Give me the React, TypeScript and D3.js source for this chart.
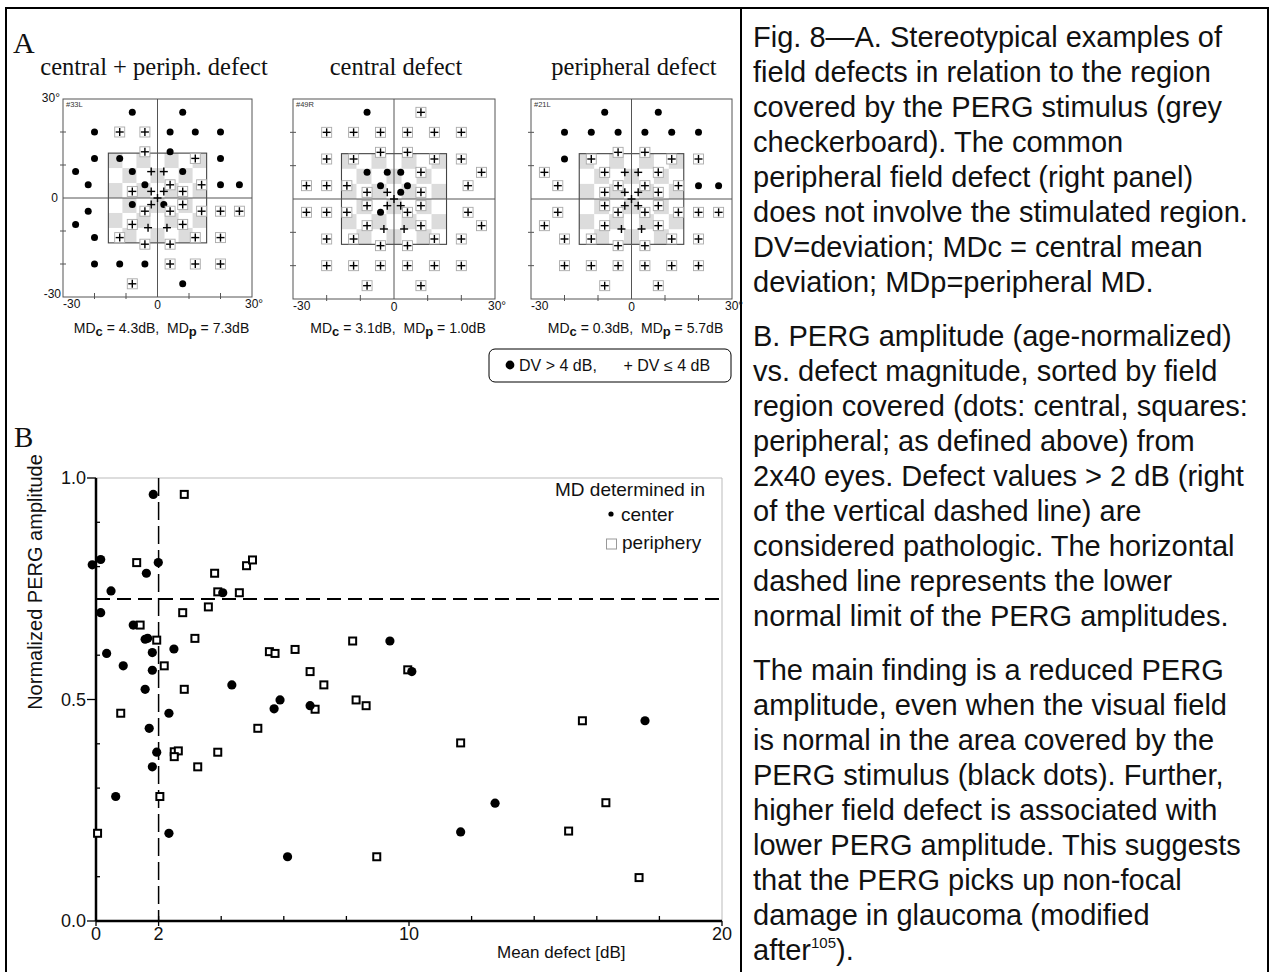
import React from 'react';
import * as d3 from 'd3';

// ---------- Panel A: visual-field test pattern (left-eye orientation, degrees) ----------
const fieldX = [
  -8, 8,
  -20, -12, -4, 4, 12, 20,
  -4, 4,
  -20, -12, 12, 20,
  -26, -8, -2, 2, 8,
  -22, -4, 4, 14, 20, 26,
  -8, -2, 2, 8,
  0,
  -8, -2, 2, 8,
  -22, -4, 4, 14, 20, 26,
  -26, -8, -3, 3, 8,
  -20, -12, 12, 20,
  -4, 4,
  -20, -12, -4, 4, 12, 20,
  -8, 8,
];
const fieldY = [
  26, 26,
  20, 20, 20, 20, 20, 20,
  14, 14,
  12, 12, 12, 12,
  8, 8, 8, 8, 8,
  4, 4, 4, 4, 4, 4,
  2, 2, 2, 2,
  0,
  -2, -2, -2, -2,
  -4, -4, -4, -4, -4, -4,
  -8, -8, -9, -9, -8,
  -12, -12, -12, -12,
  -14, -14,
  -20, -20, -20, -20, -20, -20,
  -26, -26,
];
// D = DV > 4 dB (dot), P = DV <= 4 dB (plus)
const panelStatus = [
  'DD' + 'DPPDDD' + 'PD' + 'DDPD' + 'DDPPD' + 'DDPPDD' + 'PPPP' + 'P' + 'DPDP' + 'DPPPPP' + 'DPPPP' + 'DPPP' + 'PP' + 'DDDPPP' + 'PD',
  'PD' + 'PPPPPP' + 'PP' + 'PPPP' + 'PPDDD' + 'PDDPPP' + 'PDPP' + 'P' + 'PPPP' + 'PPDPPP' + 'PPPPP' + 'PPPP' + 'PP' + 'PPPPPP' + 'PP',
  'DD' + 'DDDDDD' + 'PP' + 'DPPP' + 'PPPPP' + 'PPPPDD' + 'PPPP' + 'P' + 'PPPP' + 'PPPPPP' + 'PPPPP' + 'PPPP' + 'PP' + 'PPPPPP' + 'PP',
];
const panelTitles = ['central + periph. defect', 'central defect', 'peripheral defect'];
const panelIds = ['#33L', '#49R', '#21L'];
const panelMirrored = [false, true, false];
const panelMDc = ['4.3', '3.1', '0.3'];
const panelMDp = ['7.3', '1.0', '5.7'];
const fieldTicks = [-20, -10, 10, 20];
const checkerHalfW = 15.6;
const checkerHalfH = 13.6;
const checkerCols = 7;
const checkerRows = 6;

// ---------- Panel B: PERG amplitude vs mean defect ----------
const centerMD = [1.83, -0.12, 0.15, 1.99, 1.61, 4.05, 0.48, 0.15, 1.19, 1.57, 1.65, 0.34, 1.80, 2.49, 0.87, 1.80, 1.57, 4.34, 5.88, 5.69, 2.33, 1.70, 1.94, 1.80, 0.63, 2.33, 6.12, 9.39, 10.09, 6.84, 12.75, 11.65, 17.54];
const centerAmp = [0.963, 0.804, 0.816, 0.809, 0.785, 0.741, 0.745, 0.696, 0.668, 0.636, 0.638, 0.604, 0.606, 0.614, 0.576, 0.566, 0.523, 0.533, 0.499, 0.479, 0.469, 0.435, 0.381, 0.348, 0.281, 0.198, 0.145, 0.632, 0.563, 0.486, 0.266, 0.201, 0.452];
const periphMD = [2.82, 1.30, 3.79, 4.81, 5.0, 3.89, 4.58, 3.59, 2.77, 1.41, 1.94, 3.16, 2.18, 2.82, 5.54, 5.72, 0.79, 5.17, 2.50, 2.63, 2.50, 3.89, 3.25, 2.04, 0.05, 6.36, 8.20, 6.84, 7.28, 9.96, 7.0, 8.31, 8.63, 11.65, 8.97, 15.54, 16.29, 15.10, 17.35];
const periphAmp = [0.963, 0.809, 0.785, 0.802, 0.815, 0.743, 0.741, 0.709, 0.696, 0.668, 0.634, 0.638, 0.576, 0.523, 0.608, 0.604, 0.469, 0.435, 0.382, 0.384, 0.371, 0.381, 0.348, 0.281, 0.198, 0.613, 0.632, 0.563, 0.533, 0.567, 0.478, 0.499, 0.486, 0.402, 0.145, 0.452, 0.267, 0.203, 0.098];
const xTickLabelsB = [0, 2, 10, 20];
const xMinorTicksB = [2, 4, 6, 8, 12, 14, 16, 18];
const yTickLabelsB = [0.0, 0.5, 1.0];
const yMinorTicksB = [0.1, 0.2, 0.3, 0.4, 0.6, 0.7, 0.8, 0.9];
const normalLimit = 0.727;
const pathologicMD = 2;

// ---------- Caption ----------
const captionParagraphs = [
  [
    'Fig. 8\u2014A. Stereotypical examples of',
    'field defects in relation to the region',
    'covered by the PERG stimulus (grey',
    'checkerboard). The common',
    'peripheral field defect (right panel)',
    'does not involve the stimulated region.',
    'DV=deviation; MDc = central mean',
    'deviation; MDp=peripheral MD.',
  ],
  [
    'B. PERG amplitude (age-normalized)',
    'vs. defect magnitude, sorted by field',
    'region covered (dots: central, squares:',
    'peripheral; as defined above) from',
    '2x40 eyes. Defect values > 2 dB (right',
    'of the vertical dashed line) are',
    'considered pathologic. The horizontal',
    'dashed line represents the lower',
    'normal limit of the PERG amplitudes.',
  ],
  [
    'The main finding is a reduced PERG',
    'amplitude, even when the visual field',
    'is normal in the area covered by the',
    'PERG stimulus (black dots). Further,',
    'higher field defect is associated with',
    'lower PERG amplitude. This suggests',
    'that the PERG picks up non-focal',
    'damage in glaucoma (modified',
    'after',
  ],
];
const lastLineSup = '105';
const lastLineTail = ').';

const SANS = '"Liberation Sans", Arial, Helvetica, sans-serif';
const SERIF = '"Liberation Serif", "Times New Roman", serif';

const panelFrames = [
  { x0: 63, x1: 252, y0: 99, y1: 297, tx: 154 },
  { x0: 293, x1: 495, y0: 99, y1: 299, tx: 396 },
  { x0: 531, x1: 732, y0: 99, y1: 299, tx: 634 },
];

function FieldPanel({ idx }: { idx: number }) {
  const f = panelFrames[idx];
  const x = d3.scaleLinear().domain([-30, 30]).range([f.x0, f.x1]);
  const y = d3.scaleLinear().domain([-30, 30]).range([f.y1, f.y0]);
  const mirror = panelMirrored[idx] ? -1 : 1;
  const cw = (2 * checkerHalfW) / checkerCols;
  const ch = (2 * checkerHalfH) / checkerRows;
  const cells: JSX.Element[] = [];
  for (let r = 0; r < checkerRows; r++) {
    for (let c = 0; c < checkerCols; c++) {
      if ((r + c) % 2 === 0) {
        const cx0 = -checkerHalfW + c * cw;
        const cy0 = checkerHalfH - r * ch;
        cells.push(
          <rect key={`c${r}-${c}`} x={x(cx0)} y={y(cy0)} width={x(cx0 + cw) - x(cx0)} height={y(cy0 - ch) - y(cy0)} fill="#dcdcdc" />
        );
      }
    }
  }
  const status = panelStatus[idx];
  return (
    <g>
      <text x={f.tx} y={75} textAnchor="middle" fontFamily={SERIF} fontSize={24.5} fill="#111">{panelTitles[idx]}</text>
      <rect x={f.x0} y={f.y0} width={f.x1 - f.x0} height={f.y1 - f.y0} fill="white" stroke="#555" strokeWidth={1} />
      {cells}
      <rect x={x(-checkerHalfW)} y={y(checkerHalfH)} width={x(checkerHalfW) - x(-checkerHalfW)} height={y(-checkerHalfH) - y(checkerHalfH)} fill="none" stroke="#444" strokeWidth={1.1} />
      <line x1={x(0)} x2={x(0)} y1={f.y0} y2={f.y1} stroke="#555" strokeWidth={1} />
      <line x1={f.x0} x2={f.x1} y1={y(0)} y2={y(0)} stroke="#555" strokeWidth={1} />
      {fieldTicks.map((t) => (
        <g key={`t${t}`}>
          <line x1={f.x0 - 3} x2={f.x0 + 3} y1={y(t)} y2={y(t)} stroke="#555" strokeWidth={1} />
          <line x1={x(t)} x2={x(t)} y1={f.y1 - 4} y2={f.y1 + 2} stroke="#555" strokeWidth={1} />
        </g>
      ))}
      <text x={f.x0 + 3} y={f.y0 + 8} fontFamily={SANS} fontSize={7.5} fill="#333">{panelIds[idx]}</text>
      {fieldX.map((fx, i) => {
        const px = x(fx * mirror);
        const py = y(fieldY[i]);
        if (status[i] === 'D') {
          return <circle key={i} cx={px} cy={py} r={3.5} fill="#000" />;
        }
        const boxed = Math.abs(fx) >= 4 || Math.abs(fieldY[i]) >= 12;
        return (
          <g key={i}>
            {boxed && <rect x={px - 5} y={py - 5} width={10} height={10} fill="white" stroke="#aaa" strokeWidth={0.9} />}
            <line x1={px - 4} x2={px + 4} y1={py} y2={py} stroke="#000" strokeWidth={1.4} />
            <line x1={px} x2={px} y1={py - 4} y2={py + 4} stroke="#000" strokeWidth={1.4} />
          </g>
        );
      })}
      {idx === 0 && (
        <g fontFamily={SANS} fontSize={12} fill="#111">
          <text x={f.x0 - 3} y={f.y0 + 3} textAnchor="end">30°</text>
          <text x={f.x0 - 5} y={y(0) + 4} textAnchor="end">0</text>
          <text x={f.x0 - 2} y={f.y1 + 1} textAnchor="end">-30</text>
        </g>
      )}
      <g fontFamily={SANS} fontSize={12} fill="#111">
        <text x={f.x0} y={f.y1 + 11}>-30</text>
        <text x={x(0)} y={f.y1 + 12} textAnchor="middle">0</text>
        <text x={f.x1 - 7} y={f.y1 + 11}>30°</text>
      </g>
      <text x={(f.x0 + f.x1) / 2 + 4} y={333} textAnchor="middle" fontFamily={SANS} fontSize={14} fill="#111" style={{ whiteSpace: 'pre' }}>
        <tspan>MD</tspan>
        <tspan fontWeight="bold" fontSize={13} dy={3}>c</tspan>
        <tspan dy={-3}>{` = ${panelMDc[idx]}dB,  MD`}</tspan>
        <tspan fontWeight="bold" fontSize={13} dy={3}>p</tspan>
        <tspan dy={-3}>{` = ${panelMDp[idx]}dB`}</tspan>
      </text>
    </g>
  );
}

function PanelB() {
  const x = d3.scaleLinear().domain([0, 20]).range([96, 722]);
  const y = d3.scaleLinear().domain([0, 1]).range([921, 478]);
  return (
    <g>
      <text x={14} y={447} fontFamily={SERIF} fontSize={29} fill="#111">B</text>
      <text transform={`translate(42,582) rotate(-90)`} textAnchor="middle" fontFamily={SANS} fontSize={20} fill="#111">Normalized PERG amplitude</text>
      {/* frame */}
      <line x1={x(0)} x2={x(20)} y1={y(1)} y2={y(1)} stroke="#bbb" strokeWidth={1} />
      <line x1={x(20)} x2={x(20)} y1={y(1)} y2={y(0)} stroke="#bbb" strokeWidth={1} />
      {/* dashed limits */}
      <line x1={x(0)} x2={x(20)} y1={y(normalLimit)} y2={y(normalLimit)} stroke="#000" strokeWidth={2} strokeDasharray="14,7" />
      <line x1={x(pathologicMD)} x2={x(pathologicMD)} y1={y(1)} y2={y(0)} stroke="#000" strokeWidth={1.5} strokeDasharray="18,6" />
      {/* axes */}
      <line x1={x(0)} x2={x(0)} y1={y(1)} y2={y(0)} stroke="#000" strokeWidth={2.5} />
      <line x1={x(0)} x2={x(20)} y1={y(0)} y2={y(0)} stroke="#000" strokeWidth={2.5} />
      {yMinorTicksB.map((t) => (
        <line key={`ym${t}`} x1={x(0)} x2={x(0) + 4} y1={y(t)} y2={y(t)} stroke="#000" strokeWidth={1.3} />
      ))}
      {yTickLabelsB.map((t) => (
        <g key={`yl${t}`}>
          <line x1={x(0) - 9} x2={x(0)} y1={y(t)} y2={y(t)} stroke="#000" strokeWidth={1.3} />
          <text x={86} y={y(t) + 6} textAnchor="end" fontFamily={SANS} fontSize={18} fill="#111">{t.toFixed(1)}</text>
        </g>
      ))}
      {xMinorTicksB.map((t) => (
        <line key={`xm${t}`} x1={x(t)} x2={x(t)} y1={y(0) - 5} y2={y(0)} stroke="#000" strokeWidth={1.3} />
      ))}
      {xTickLabelsB.map((t) => (
        <g key={`xl${t}`}>
          <line x1={x(t)} x2={x(t)} y1={y(0)} y2={y(0) + 5} stroke="#000" strokeWidth={1.3} />
          <text x={x(t)} y={940} textAnchor="middle" fontFamily={SANS} fontSize={18} fill="#111">{t}</text>
        </g>
      ))}
      <text x={497} y={958} fontFamily={SANS} fontSize={17} fill="#111">Mean defect [dB]</text>
      {/* legend */}
      <text x={555} y={496} fontFamily={SANS} fontSize={19} fill="#111">MD determined in</text>
      <circle cx={611} cy={514} r={2.6} fill="#000" />
      <text x={621} y={521} fontFamily={SANS} fontSize={19} fill="#111">center</text>
      <rect x={606.5} y={539} width={10} height={10} fill="white" stroke="#999" strokeWidth={1} />
      <text x={622} y={549} fontFamily={SANS} fontSize={19} fill="#111">periphery</text>
      {/* data */}
      {periphMD.map((v, i) => (
        <rect key={`p${i}`} x={x(v) - 3.5} y={y(periphAmp[i]) - 3.5} width={7} height={7} fill="white" stroke="#000" strokeWidth={2} />
      ))}
      {centerMD.map((v, i) => (
        <circle key={`c${i}`} cx={x(v)} cy={y(centerAmp[i])} r={4.6} fill="#000" />
      ))}
    </g>
  );
}

function Caption() {
  const lineH = 35;
  const paraExtra = 19;
  const x0 = 753;
  const items: JSX.Element[] = [];
  let yy = 47;
  captionParagraphs.forEach((para, pi) => {
    para.forEach((line, li) => {
      const isLast = pi === captionParagraphs.length - 1 && li === para.length - 1;
      items.push(
        <text key={`${pi}-${li}`} x={x0} y={yy} fontFamily={SANS} fontSize={29} fill="#111">
          {line}
          {isLast && <tspan fontSize={15} dy={-12}>{lastLineSup}</tspan>}
          {isLast && <tspan dy={12}>{lastLineTail}</tspan>}
        </text>
      );
      yy += lineH;
    });
    yy += paraExtra;
  });
  return <g>{items}</g>;
}

export default function App() {
  return (
    <svg width={1273} height={972} style={{ position: 'absolute', left: 0, top: 0, background: 'white' }}>
      <rect x={0} y={0} width={1273} height={972} fill="white" />
      <rect x={6} y={8} width={1262} height={966} fill="none" stroke="#000" strokeWidth={2} />
      <line x1={741} x2={741} y1={8} y2={972} stroke="#000" strokeWidth={2} />
      <text x={13} y={53} fontFamily={SERIF} fontSize={30} fill="#111">A</text>
      {[0, 1, 2].map((i) => <FieldPanel key={i} idx={i} />)}
      <rect x={489} y={349} width={242} height={33} rx={6} fill="white" stroke="#000" strokeWidth={1} />
      <circle cx={510} cy={365} r={4.4} fill="#000" />
      <text x={519} y={371} fontFamily={SANS} fontSize={16} fill="#111" style={{ whiteSpace: 'pre' }}>{'DV > 4 dB,      + DV \u2264 4 dB'}</text>
      <PanelB />
      <Caption />
    </svg>
  );
}
